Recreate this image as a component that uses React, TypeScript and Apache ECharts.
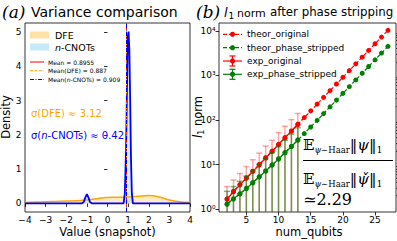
import React, { useEffect, useRef } from "react";
import * as echarts from "echarts";

// ---------- Panel (a): variance comparison ----------
const valueGrid = [-4, -3.5, -3, -2.5, -2, -1.5, -1, -0.5, 0, 0.5, 1, 1.5, 2, 2.5, 3, 3.5, 4];
const dfeDensity = [0.03, 0.04, 0.05, 0.06, 0.07, 0.08, 0.1, 0.14, 0.17, 0.18, 0.19, 0.21, 0.23, 0.19, 0.1, 0.05, 0.03];
const cnotValues = [-4, -1.25, -1.15, -1.08, -1.0, -0.92, -0.85, -0.75, 0.78, 0.84, 0.9, 0.95, 0.99, 1.02, 1.06, 1.1, 1.14, 1.18, 1.23, 4];
const cnotDensity = [0, 0, 0.04, 0.17, 0.27, 0.17, 0.04, 0, 0, 0.3, 1.6, 3.6, 4.9, 5.02, 4.5, 3.0, 1.3, 0.3, 0, 0];
const meanAll = 0.8955;
const meanDFE = 0.887;
const meanCNOT = 0.909;
const densityTicks = [0, 1, 2, 3, 4, 5];

// ---------- Panel (b): l1 norm ----------
const qubits = [2, 3, 4, 5, 6, 7, 8, 9, 10, 11, 12, 13, 14, 15, 16, 17, 18, 19, 20, 21, 22, 23, 24, 25, 26, 27];
const theorOriginal = [1.7, 2.51, 3.54, 5.01, 7.09, 10.0, 14.2, 20.0, 28.4, 40.1, 56.7, 80.2, 113, 160, 227, 321, 454, 642, 907, 1283, 1815, 2567, 3630, 5134, 7260, 10267];
const theorStripped = [1.3, 1.68, 2.2, 2.95, 3.9, 5.3, 7.2, 9.8, 13.4, 18.5, 25.5, 35.5, 49.5, 69.5, 98, 139, 197, 279, 395, 559, 791, 1119, 1583, 2240, 3168, 4480];
const expQubits = [2, 3, 4, 5, 6, 7, 8, 9, 10, 11, 12, 13];
const expOriginal = [1.65, 2.45, 3.5, 4.9, 7.0, 9.7, 14.0, 19.6, 28.0, 39.5, 56, 79];
const expOriginalHigh = [3.2, 4.5, 6.3, 9.0, 12.8, 18, 26, 35, 52, 72, 102, 140];
const expOriginalLow = [0.5, 0.5, 0.5, 0.5, 0.5, 0.5, 0.5, 0.5, 0.5, 0.5, 0.5, 0.5];
const expStripped = [1.28, 1.7, 2.2, 2.9, 3.9, 5.3, 7.1, 9.7, 13.3, 18.4, 25.4, 35.3];
const expStrippedHigh = [2.5, 3.2, 4.2, 5.5, 7.4, 10.1, 13.5, 18.5, 25, 35, 48, 67];
const expStrippedLow = [0.5, 0.5, 0.5, 0.5, 0.5, 0.5, 0.5, 0.5, 0.5, 0.5, 0.5, 0.5];
const qubitTicks = [5, 10, 15, 20, 25];
const normTicks = [1, 10, 100, 1000, 10000];
const supDigits = ["⁰", "¹", "²", "³", "⁴"];

const SANS = "'DejaVu Sans', sans-serif";
const SERIF = "'DejaVu Serif', 'Liberation Serif', 'DejaVu Sans', serif";

function errorRender(color: string) {
  return (params: any, api: any) => {
    const x = api.value(0);
    const lo = api.value(1);
    const hi = api.value(2);
    const top = api.coord([x, hi]);
    const bot = api.coord([x, lo]);
    const w = 3;
    const style = { stroke: color, lineWidth: 1.5 };
    return {
      type: "group",
      children: [
        { type: "line", shape: { x1: top[0], y1: top[1], x2: bot[0], y2: bot[1] }, style },
        { type: "line", shape: { x1: top[0] - w, y1: top[1], x2: top[0] + w, y2: top[1] }, style },
      ],
    };
  };
}

export default function App() {
  const ref = useRef<HTMLDivElement>(null);
  useEffect(() => {
    if (!ref.current) return;
    const chart = echarts.init(ref.current, undefined, { renderer: "svg" });
    const minorLog: number[] = [];
    for (let d = 1; d <= 1000; d *= 10) for (let k = 2; k <= 9; k++) minorLog.push(k * d);

    const tickLabel = { color: "#000", fontSize: 9, fontFamily: SANS };
    const tick = { show: true, length: 3.5, lineStyle: { color: "#000", width: 0.8 } };

    const legendA = [
      { type: "rect", shape: { x: 30, y: 31.5, width: 19, height: 7 }, style: { fill: "rgba(255,165,0,0.35)" } },
      { type: "text", x: 55, y: 35, style: { text: "DFE", fontSize: 9.5, fontFamily: SANS, fill: "#000", verticalAlign: "middle" } },
      { type: "rect", shape: { x: 30, y: 43.5, width: 19, height: 7 }, style: { fill: "rgba(135,206,235,0.45)" } },
      {
        type: "text", x: 55, y: 47.5,
        style: {
          text: "{i|n}{r|-CNOTs}", verticalAlign: "middle", fill: "#000",
          rich: { i: { fontSize: 9.5, fontFamily: SANS, fontStyle: "italic", fill: "#000" }, r: { fontSize: 9.5, fontFamily: SANS, fill: "#000" } },
        },
      },
      { type: "line", shape: { x1: 30, y1: 62, x2: 44, y2: 62 }, style: { stroke: "red", lineWidth: 1 } },
      { type: "text", x: 48, y: 62, style: { text: "Mean = 0.8955", fontSize: 6, fontFamily: SANS, fill: "#000", verticalAlign: "middle" } },
      { type: "line", shape: { x1: 30, y1: 70.7, x2: 44, y2: 70.7 }, style: { stroke: "#FFA500", lineWidth: 1, lineDash: [3, 1.5] } },
      { type: "text", x: 48, y: 70.7, style: { text: "Mean(DFE) = 0.887", fontSize: 6, fontFamily: SANS, fill: "#000", verticalAlign: "middle" } },
      { type: "line", shape: { x1: 30, y1: 79.5, x2: 44, y2: 79.5 }, style: { stroke: "blue", lineWidth: 1, lineDash: [4, 1.5, 1, 1.5] } },
      {
        type: "text", x: 48, y: 79.5,
        style: {
          text: "{r|Mean(}{i|n}{r|-CNOTs) = 0.909}", verticalAlign: "middle",
          rich: { i: { fontSize: 6, fontFamily: SANS, fontStyle: "italic", fill: "#000" }, r: { fontSize: 6, fontFamily: SANS, fill: "#000" } },
        },
      },
      { type: "text", x: 31, y: 113, style: { text: "σ(DFE) ≈ 3.12", fontSize: 10, fontFamily: SANS, fill: "#FFA500", verticalAlign: "middle" } },
      {
        type: "text", x: 31, y: 135.5,
        style: {
          text: "{r|σ(}{i|n}{r|-CNOTs) ≈ 0.42}", verticalAlign: "middle",
          rich: { i: { fontSize: 10, fontFamily: SANS, fontStyle: "italic", fill: "blue" }, r: { fontSize: 10, fontFamily: SANS, fill: "blue" } },
        },
      },
    ];

    const legendRow = (y: number, color: string, dashed: boolean, err: boolean) => {
      const els: any[] = [
        { type: "line", shape: { x1: 223, y1: y, x2: 242, y2: y }, style: { stroke: color, lineWidth: 1.2, lineDash: dashed ? [4, 2] : null } },
        { type: "circle", shape: { cx: 232.5, cy: y, r: 2.6 }, style: { fill: color } },
      ];
      if (err) {
        els.push({ type: "line", shape: { x1: 232.5, y1: y - 5, x2: 232.5, y2: y + 5 }, style: { stroke: color, lineWidth: 1.2 } });
        els.push({ type: "line", shape: { x1: 229.5, y1: y - 5, x2: 235.5, y2: y - 5 }, style: { stroke: color, lineWidth: 1.2 } });
        els.push({ type: "line", shape: { x1: 229.5, y1: y + 5, x2: 235.5, y2: y + 5 }, style: { stroke: color, lineWidth: 1.2 } });
      }
      return els;
    };
    const legendText = (y: number, t: string) => ({
      type: "text", x: 247, y, style: { text: t, fontSize: 9, fontFamily: SANS, fill: "#000", verticalAlign: "middle" },
    });

    const legendB = [
      ...legendRow(34.3, "red", true, false), legendText(34.3, "theor_original"),
      ...legendRow(47.7, "green", true, false), legendText(47.7, "theor_phase_stripped"),
      ...legendRow(61, "red", false, true), legendText(61, "exp_original"),
      ...legendRow(74.3, "green", false, true), legendText(74.3, "exp_phase_stripped"),
    ];

    const fracRich = {
      E: { fontSize: 15, fontFamily: SERIF, fill: "#000", lineHeight: 18 },
      s: { fontSize: 8.5, fontFamily: SERIF, fill: "#000", fontStyle: "italic", verticalAlign: "bottom", lineHeight: 10 },
      h: { fontSize: 8.5, fontFamily: SERIF, fill: "#000", verticalAlign: "bottom", lineHeight: 10 },
      n: { fontSize: 15, fontFamily: SERIF, fill: "#000", fontStyle: "italic", lineHeight: 18 },
      b: { fontSize: 15, fontFamily: SERIF, fill: "#000", lineHeight: 18 },
      o: { fontSize: 9.5, fontFamily: SERIF, fill: "#000", verticalAlign: "bottom", lineHeight: 10 },
    };

    const texts = [
      { type: "text", x: 2, y: 12, style: { text: "(a)", fontSize: 17, fontFamily: SERIF, fontStyle: "italic", fill: "#000", verticalAlign: "middle" } },
      { type: "text", x: 31, y: 12, style: { text: "Variance comparison", fontSize: 14, fontFamily: SANS, fill: "#000", verticalAlign: "middle" } },
      { type: "text", x: 196, y: 12, style: { text: "(b)", fontSize: 17, fontFamily: SERIF, fontStyle: "italic", fill: "#000", verticalAlign: "middle" } },
      { type: "text", x: 224, y: 12, style: { text: "l", fontSize: 13, fontFamily: SANS, fontStyle: "italic", fill: "#000", verticalAlign: "middle" } },
      { type: "text", x: 228.5, y: 16, style: { text: "1", fontSize: 9, fontFamily: SANS, fill: "#000", verticalAlign: "middle" } },
      { type: "text", x: 237, y: 13, style: { text: "norm", fontSize: 11, fontFamily: SANS, fill: "#000", verticalAlign: "middle" } },
      { type: "text", x: 270, y: 12, style: { text: "after phase stripping", fontSize: 11.8, fontFamily: SANS, fill: "#000", verticalAlign: "middle" } },
      { type: "text", x: 107.5, y: 232, style: { text: "Value (snapshot)", fontSize: 11.5, fontFamily: SANS, fill: "#000", align: "center", verticalAlign: "middle" } },
      { type: "text", x: 309, y: 232, style: { text: "num_qubits", fontSize: 11.5, fontFamily: SANS, fill: "#000", align: "center", verticalAlign: "middle" } },
      { type: "text", x: 6, y: 117, rotation: Math.PI / 2, style: { text: "Density", fontSize: 11.5, fontFamily: SANS, fill: "#000", align: "center", verticalAlign: "middle" } },
      {
        type: "text", x: 198, y: 117, rotation: Math.PI / 2,
        style: {
          text: "{l|l}{s|1}{r| norm}", align: "center", verticalAlign: "middle",
          rich: {
            l: { fontSize: 11.5, fontFamily: SANS, fontStyle: "italic", fill: "#000", lineHeight: 14 },
            s: { fontSize: 8, fontFamily: SANS, fill: "#000", verticalAlign: "bottom", lineHeight: 9 },
            r: { fontSize: 11.5, fontFamily: SANS, fill: "#000", lineHeight: 14 },
          },
        },
      },
      { type: "text", x: 303, y: 145, style: { text: "{E|𝔼}{s|ψ}{h|∼Haar}{b|‖}{n|ψ}{b|‖}{o|1}", verticalAlign: "middle", rich: fracRich } },
      { type: "line", shape: { x1: 303, y1: 160.5, x2: 393, y2: 160.5 }, style: { stroke: "#000", lineWidth: 1 } },
      { type: "text", x: 303, y: 179, style: { text: "{E|𝔼}{s|ψ}{h|∼Haar}{b|‖}{n|ψ̌}{b|‖}{o|1}", verticalAlign: "middle", rich: fracRich } },
      { type: "text", x: 303, y: 199, style: { text: "≃2.29", fontSize: 16, fontFamily: SERIF, fill: "#000", verticalAlign: "middle" } },
    ];

    const option: any = {
      animation: false,
      backgroundColor: "#fff",
      grid: [
        { left: 25, top: 23, width: 165, height: 189, show: true, borderColor: "#000", borderWidth: 0.8, backgroundColor: "transparent" },
        { left: 219, top: 23, width: 177, height: 189, show: true, borderColor: "#000", borderWidth: 0.8, backgroundColor: "transparent" },
      ],
      xAxis: [
        {
          gridIndex: 0, type: "value", min: -4, max: 4, interval: 1,
          axisLine: { show: false }, splitLine: { show: false }, axisTick: tick,
          axisLabel: { ...tickLabel, margin: 3.5, formatter: (v: number) => String(v).replace("-", "−") },
        },
        {
          gridIndex: 1, type: "value", min: 0.75, max: 28.25,
          axisLine: { show: false }, splitLine: { show: false },
          axisTick: { ...tick, customValues: qubitTicks },
          axisLabel: { ...tickLabel, margin: 3.5, customValues: qubitTicks },
        },
      ],
      yAxis: [
        {
          gridIndex: 0, type: "value", min: -0.25, max: 5.27,
          axisLine: { show: false }, splitLine: { show: false },
          axisTick: { ...tick, customValues: densityTicks },
          axisLabel: { ...tickLabel, margin: 3.5, customValues: densityTicks },
        },
        {
          gridIndex: 1, type: "log", min: 0.86, max: 15000,
          axisLine: { show: false }, splitLine: { show: false },
          axisTick: { ...tick, customValues: normTicks },
          axisLabel: { ...tickLabel, margin: 3.5, customValues: normTicks, formatter: (v: number) => "10" + supDigits[Math.round(Math.log10(v))] },
        },
        {
          gridIndex: 1, type: "log", min: 0.86, max: 15000,
          axisLine: { show: false }, splitLine: { show: false },
          axisTick: { show: true, length: 2, lineStyle: { color: "#000", width: 0.6 }, customValues: minorLog },
          axisLabel: { show: false },
        },
      ],
      series: [
        {
          type: "line", xAxisIndex: 0, yAxisIndex: 0, smooth: 0.35, showSymbol: false,
          data: valueGrid.map((x, i) => [x, dfeDensity[i]]),
          lineStyle: { color: "#FFA500", width: 1.5 }, itemStyle: { color: "#FFA500" },
          areaStyle: { color: "rgba(255,165,0,0.3)", origin: 0 }, z: 2,
        },
        {
          type: "line", xAxisIndex: 0, yAxisIndex: 0, showSymbol: false,
          data: cnotValues.map((x, i) => [x, cnotDensity[i]]),
          lineStyle: { color: "blue", width: 1.8 }, itemStyle: { color: "blue" },
          areaStyle: { color: "rgba(135,206,235,0.45)", origin: 0 }, z: 3,
        },
        {
          type: "line", xAxisIndex: 0, yAxisIndex: 0, data: [], z: 5,
          markLine: {
            silent: true, symbol: "none", label: { show: false }, animation: false,
            data: [
              { xAxis: meanAll, lineStyle: { color: "red", width: 1, type: "solid" } },
              { xAxis: meanDFE, lineStyle: { color: "#FFA500", width: 1, type: [3, 1.5] } },
              { xAxis: meanCNOT, lineStyle: { color: "blue", width: 1, type: [4, 1.5, 1, 1.5] } },
            ],
          },
        },
        {
          type: "line", xAxisIndex: 1, yAxisIndex: 1, data: qubits.map((n, i) => [n, theorOriginal[i]]),
          symbol: "circle", symbolSize: 5, itemStyle: { color: "red" }, lineStyle: { color: "red", width: 1.2, type: [4, 2] }, z: 2,
        },
        {
          type: "line", xAxisIndex: 1, yAxisIndex: 1, data: qubits.map((n, i) => [n, theorStripped[i]]),
          symbol: "circle", symbolSize: 5, itemStyle: { color: "green" }, lineStyle: { color: "green", width: 1.2, type: [4, 2] }, z: 2,
        },
        {
          type: "custom", xAxisIndex: 1, yAxisIndex: 1, clip: true, z: 3,
          data: expQubits.map((n, i) => [n, expOriginalLow[i], expOriginalHigh[i]]),
          encode: { x: 0, y: [1, 2] }, renderItem: errorRender("rgba(255,0,0,0.35)"),
        },
        {
          type: "line", xAxisIndex: 1, yAxisIndex: 1, data: expQubits.map((n, i) => [n, expOriginal[i]]),
          symbol: "circle", symbolSize: 5, itemStyle: { color: "red" }, lineStyle: { color: "red", width: 1.2 }, z: 4,
        },
        {
          type: "custom", xAxisIndex: 1, yAxisIndex: 1, clip: true, z: 5,
          data: expQubits.map((n, i) => [n, expStrippedLow[i], expStrippedHigh[i]]),
          encode: { x: 0, y: [1, 2] }, renderItem: errorRender("rgba(0,128,0,0.55)"),
        },
        {
          type: "line", xAxisIndex: 1, yAxisIndex: 1, data: expQubits.map((n, i) => [n, expStripped[i]]),
          symbol: "circle", symbolSize: 5, itemStyle: { color: "green" }, lineStyle: { color: "green", width: 1.2 }, z: 6,
        },
      ],
      graphic: { elements: [...legendA, ...legendB, ...texts] },
    };
    chart.setOption(option);
    return () => chart.dispose();
  }, []);
  return <div ref={ref} style={{ position: "fixed", left: 0, top: 0, width: 397, height: 241 }} />;
}
